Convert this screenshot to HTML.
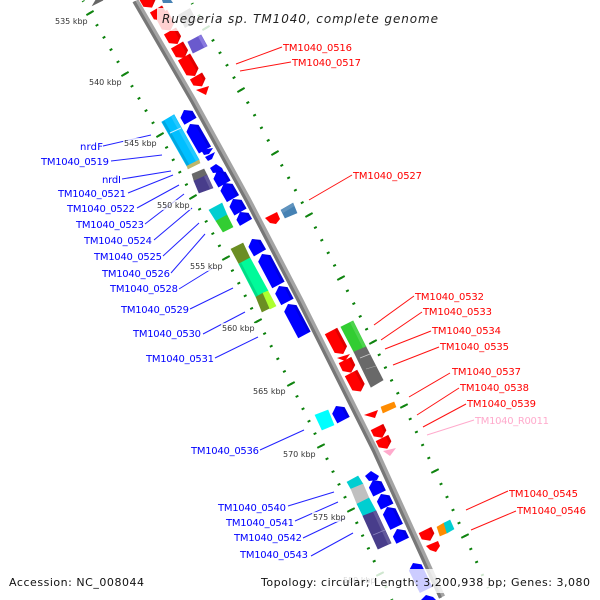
<!DOCTYPE html>
<html><head><meta charset="utf-8"><style>
html,body{margin:0;padding:0;background:#fff;width:600px;height:600px;overflow:hidden}
svg{display:block}
text{font-family:"DejaVu Sans","Liberation Sans",sans-serif}
.d path{fill:none;stroke:#0a800a;stroke-width:3;stroke-dasharray:1.4 8.6;stroke-dashoffset:.7}
.t line{stroke:#0f840f;stroke-width:2}
.b{font-size:10px;fill:#0000ff}.r{font-size:10px;fill:#ff0000}.p{font-size:10px;fill:#ffaacc}
.k{font-size:8px;fill:#333}
.lb line{stroke:#2222ff;stroke-width:1}.lr line{stroke:#ff1111;stroke-width:1}
.s{fill:#000;opacity:.12}.w{fill:#fff;opacity:.14}
</style></head><body>
<svg width="600" height="600" viewBox="0 0 600 600" xmlns="http://www.w3.org/2000/svg">
<rect width="600" height="600" fill="#fff"/>
<g class="d">
<path pathLength="10" d="M83,.8L90,13"/><path pathLength="50" d="M90,13L125,74"/><path pathLength="50" d="M125,74L160,135"/><path pathLength="50" d="M160,135L193,197"/><path pathLength="50" d="M193,197L226,258"/><path pathLength="50" d="M226,258L258,321"/><path pathLength="50" d="M258,321L291,384"/><path pathLength="50" d="M291,384L321,446"/><path pathLength="50" d="M321,446L351,510"/><path pathLength="50" d="M351,510L380,574"/><path pathLength="20" d="M380,574L392,600"/>
<path pathLength="20" d="M192,3.2L206,28"/><path pathLength="50" d="M206,28L241,90"/><path pathLength="50" d="M241,90L275,153"/><path pathLength="50" d="M275,153L309,215"/><path pathLength="50" d="M309,215L341,278"/><path pathLength="50" d="M341,278L373,342"/><path pathLength="50" d="M373,342L404,406"/><path pathLength="50" d="M404,406L435,471"/><path pathLength="50" d="M435,471L465,536"/><path pathLength="40" d="M465,536L488.2,588"/>
</g>
<g class="t">
<line x1="86.4" y1="15.1" x2="93.6" y2="10.9"/><line x1="121.4" y1="76.1" x2="128.6" y2="71.9"/><line x1="156.4" y1="137.1" x2="163.6" y2="132.9"/><line x1="189.4" y1="199.1" x2="196.6" y2="194.9"/><line x1="222.3" y1="260" x2="229.7" y2="256"/><line x1="254.3" y1="323" x2="261.7" y2="319"/><line x1="287.3" y1="386" x2="294.7" y2="382"/><line x1="317.3" y1="447.9" x2="324.7" y2="444.1"/><line x1="347.3" y1="511.9" x2="354.7" y2="508.1"/>
<line x1="202.4" y1="30.1" x2="209.6" y2="25.9"/><line x1="237.4" y1="92.1" x2="244.6" y2="87.9"/><line x1="271.4" y1="155.1" x2="278.6" y2="150.9"/><line x1="305.4" y1="217" x2="312.6" y2="213"/><line x1="337.3" y1="280" x2="344.7" y2="276"/><line x1="369.3" y1="344" x2="376.7" y2="340"/><line x1="400.3" y1="407.9" x2="407.7" y2="404.1"/><line x1="431.3" y1="472.9" x2="438.7" y2="469.1"/><line x1="461.3" y1="537.9" x2="468.7" y2="534.1"/>
<line x1="376.3" y1="575.9" x2="383.7" y2="572.1"/>
</g>
<!-- axis -->
<path d="M135.5,1L193,100L248,200L300,300L375,450L442,597" fill="none" stroke="#a4a4a4" stroke-width="6.5"/>
<path d="M134,1.5L191.5,101L246.5,201L298.5,301L373.5,451L440.5,598" fill="none" stroke="#777" stroke-width="3.2"/>
<!-- top COG -->
<polygon points="93,5 103,0 96,0" fill="#666" stroke="#666"/>
<polygon points="163,3 173,3 171,0 162,0" fill="#4682b4"/>
<polygon points="178,15 190,8 197,21 185,28" fill="#808080"/>
<polygon points="188,42 201,35 207,46 193,53" fill="#6a5acd" stroke="#6a5acd" stroke-width=".8"/>
<polygon points="201,35 207,46 204,47.5 198,36.5" fill="#8a7ae0"/>
<!-- red arrows -->
<g fill="#ff0000">
<g transform="translate(143,-8) rotate(60)"><polygon points="0,-7 13,-7 18,0 13,7 0,7"/><polygon class="s" points="0,-7 13,-7 18,0 13,-4 0,-4"/></g>
<g transform="translate(156,9) rotate(60)"><polygon points="0,-7 8,-7 13,0 8,7 0,7"/><polygon class="s" points="0,-7 8,-7 13,0 8,-4 0,-4"/></g>
<g transform="translate(161,13) rotate(62)"><polygon points="0,-7 15,-7 20,0 15,7 0,7"/></g>
<g transform="translate(170,31) rotate(60)"><polygon points="0,-7 10,-7 15,0 10,7 0,7"/><polygon class="s" points="0,-7 10,-7 15,0 10,-4 0,-4"/></g>
<g transform="translate(177,45) rotate(60)"><polygon points="0,-7 10,-7 15,0 10,7 0,7"/><polygon class="s" points="0,-7 10,-7 15,0 10,-4 0,-4"/></g>
<g transform="translate(184,57) rotate(60)"><polygon points="0,-7 17,-7 22,0 17,7 0,7"/><polygon class="s" points="0,-7 17,-7 22,0 17,-4 0,-4"/></g>
<g transform="translate(196,76) rotate(60)"><polygon points="0,-7 7,-7 12,0 7,7 0,7"/><polygon class="s" points="0,-7 7,-7 12,0 7,-4 0,-4"/></g>
<polygon points="196,90 209,86 206,95"/>
<polygon points="265,218 277,212 280,219 276,224 270,223"/>
<g transform="translate(331,331) rotate(62)"><polygon points="0,-7 21,-7 26,0 21,7 0,7"/><polygon class="s" points="0,-7 21,-7 26,0 21,-4 0,-4"/></g>
<polygon points="337,358 350,354 345,361"/>
<g transform="translate(345,360) rotate(64)"><polygon points="0,-7 9,-7 14,0 9,7 0,7"/><polygon class="s" points="0,-7 9,-7 14,0 9,-4 0,-4"/></g>
<g transform="translate(351,373) rotate(62)"><polygon points="0,-7 16,-7 21,0 16,7 0,7"/><polygon class="s" points="0,-7 16,-7 21,0 16,-4 0,-4"/></g>
<polygon points="364,415 378,410 375,418"/>
<g transform="translate(377,427) rotate(64)"><polygon points="0,-7 7,-7 12,0 7,7 0,7"/><polygon class="s" points="0,-7 7,-7 12,0 7,-4 0,-4"/></g>
<g transform="translate(382,438) rotate(64)"><polygon points="0,-7 7,-7 12,0 7,7 0,7"/><polygon class="s" points="0,-7 7,-7 12,0 7,-4 0,-4"/></g>
<g transform="translate(425,530) rotate(64)"><polygon points="0,-7 7,-7 12,0 7,7 0,7"/><polygon class="s" points="0,-7 7,-7 12,0 7,-4 0,-4"/></g>
<polygon points="426,546 438,541 440,546 436,552 430,550"/>
</g>
<polygon points="383,451 396,448 390,456" fill="#ffaacc"/>
<!-- blue arrows -->
<g fill="#0000ff">
<g transform="translate(184,110) rotate(60)"><polygon points="0,0 5,-7 13,-7 13,7 5,7"/><polygon class="s" points="0,0 5,-7 13,-7 13,-4 5,-4"/></g>
<g transform="translate(190,124) rotate(60)"><polygon points="0,0 5,-7 30,-7 30,7 5,7"/><polygon class="s" points="0,0 5,-7 30,-7 30,-4 5,-4"/></g>
<polygon points="201,150 213,148 209,154 204,155"/>
<polygon points="205,157 215,152 212,159 208,161"/>
<polygon points="210,168 216,164 222,168 224,172 213,173"/>
<g transform="translate(217,171) rotate(60)"><polygon points="0,0 5,-7 15,-7 15,7 5,7"/><polygon class="s" points="0,0 5,-7 15,-7 15,-4 5,-4"/></g>
<g transform="translate(224,183) rotate(60)"><polygon points="0,0 5,-7 18,-7 18,7 5,7"/><polygon class="s" points="0,0 5,-7 18,-7 18,-4 5,-4"/></g>
<g transform="translate(233,199) rotate(60)"><polygon points="0,0 5,-7 15,-7 15,7 5,7"/><polygon class="s" points="0,0 5,-7 15,-7 15,-4 5,-4"/></g>
<g transform="translate(240,212) rotate(60)"><polygon points="0,0 5,-7 12,-7 12,7 5,7"/><polygon class="s" points="0,0 5,-7 12,-7 12,-4 5,-4"/></g>
<g transform="translate(252,239) rotate(60)"><polygon points="0,0 5,-7 16,-7 16,7 5,7"/><polygon class="s" points="0,0 5,-7 16,-7 16,-4 5,-4"/></g>
<g transform="translate(262,254) rotate(62)"><polygon points="0,0 5,-7 35,-7 35,7 5,7"/><polygon class="s" points="0,0 5,-7 35,-7 35,-4 5,-4"/></g>
<g transform="translate(279,286) rotate(62)"><polygon points="0,0 5,-7 18,-7 18,7 5,7"/><polygon class="s" points="0,0 5,-7 18,-7 18,-4 5,-4"/></g>
<g transform="translate(288,304) rotate(62)"><polygon points="0,0 5,-7 35,-7 35,7 5,7"/><polygon class="s" points="0,0 5,-7 35,-7 35,-4 5,-4"/></g>
<g transform="translate(336,406) rotate(62)"><polygon points="0,0 5,-7 16,-7 16,7 5,7"/><polygon class="s" points="0,0 5,-7 16,-7 16,-4 5,-4"/></g>
<polygon points="365,476 371,471 379,476 377,480 369,481"/>
<g transform="translate(373,480) rotate(64)"><polygon points="0,0 5,-7 15,-7 15,7 5,7"/><polygon class="s" points="0,0 5,-7 15,-7 15,-4 5,-4"/></g>
<g transform="translate(381,494) rotate(64)"><polygon points="0,0 5,-7 14,-7 14,7 5,7"/><polygon class="s" points="0,0 5,-7 14,-7 14,-4 5,-4"/></g>
<g transform="translate(387,507) rotate(64)"><polygon points="0,0 5,-7 22,-7 22,7 5,7"/><polygon class="s" points="0,0 5,-7 22,-7 22,-4 5,-4"/></g>
<g transform="translate(397,529) rotate(64)"><polygon points="0,0 5,-7 13,-7 13,7 5,7"/><polygon class="s" points="0,0 5,-7 13,-7 13,-4 5,-4"/></g>
<g transform="translate(413,563) rotate(64)"><polygon points="0,0 5,-7 30,-7 30,7 5,7"/></g>
<polygon points="421,600 426,595 433,597 436,600"/>
</g>
<!-- COG blocks -->
<polygon points="162,122 174,115 199,160 187,166" fill="#00bfff" stroke="#00bfff"/>
<polygon class="s" points="162,122 164.4,120.6 189.4,164.8 187,166"/>
<polygon class="w" points="171,116.8 174,115 199,160 196,161.5"/>
<line x1="170" y1="133" x2="181" y2="128" stroke="#cceeff" stroke-width="1"/>
<polygon points="187,166 199,160 200,163 188,169" fill="#bdb76b" stroke="#bdb76b" stroke-width=".6"/>
<polygon points="192,174 204,169 207,175 194,181" fill="#696969" stroke="#696969" stroke-width=".6"/>
<polygon points="194,181 207,175 213,188 199,193" fill="#483d8b" stroke="#483d8b" stroke-width=".6"/>
<polygon class="w" points="204,176.5 207,175 213,188 210,189"/>
<polygon points="281,210 293,203 297,213 285,218" fill="#4682b4" stroke="#4682b4" stroke-width=".6"/>
<polygon class="w" points="281,210 293,203 294.5,206 283,213"/>
<polygon points="209,210 222,203 227,215 216,221" fill="#00ced1" stroke="#00ced1" stroke-width=".6"/>
<polygon points="216,221 227,215 233,227 223,232" fill="#32cd32" stroke="#32cd32" stroke-width=".6"/>
<polygon points="231,249 243,243 250,258 239,264" fill="#6b8e23" stroke="#6b8e23" stroke-width=".6"/>
<polygon points="239,264 250,258 268,291 256,297" fill="#00fa9a" stroke="#00fa9a" stroke-width=".8"/>
<polygon class="s" points="239,264 241.2,262.8 258.4,295.8 256,297"/>
<polygon points="256,297 263,293 270,308 262,312" fill="#6b8e23" stroke="#6b8e23" stroke-width=".6"/>
<polygon points="263,293 268,291 276,306 270,309" fill="#adff2f" stroke="#adff2f" stroke-width=".6"/>
<polygon points="341,327 353,321 366,347 354,352" fill="#32cd32" stroke="#32cd32" stroke-width=".8"/>
<polygon class="w" points="350,322.5 353,321 366,347 363,348"/>
<polygon points="354,352 366,347 383,380 371,387" fill="#696969" stroke="#696969" stroke-width=".8"/>
<line x1="360" y1="358" x2="370" y2="354" stroke="#ccc" stroke-width=".8"/>
<line x1="366" y1="369" x2="376" y2="366" stroke="#aaa" stroke-width=".6"/>
<polygon points="381,407 394,402 396,407 383,413" fill="#ff8c00" stroke="#ff8c00" stroke-width=".6"/>
<polygon points="315,415 328,410 334,425 322,430" fill="#00ffff" stroke="#00ffff" stroke-width=".6"/>
<polygon points="437,527 444,523 447,533 440,536" fill="#ff8c00" stroke="#ff8c00" stroke-width=".6"/>
<polygon points="444,523 450,520 454,529 447,533" fill="#00ced1" stroke="#00ced1" stroke-width=".6"/>
<polygon points="347,482 358,476 363,484 351,489" fill="#00ced1" stroke="#00ced1" stroke-width=".6"/>
<polygon points="351,489 363,484 369,498 357,504" fill="#c0c0c0" stroke="#c0c0c0" stroke-width=".6"/>
<polygon points="357,504 369,498 376,511 363,516" fill="#00ced1" stroke="#00ced1" stroke-width=".6"/>
<polygon points="363,516 376,511 391,543 378,549" fill="#483d8b" stroke="#483d8b" stroke-width=".8"/>
<polygon class="w" points="373,512 376,511 391,543 388,544.4"/>
<line x1="373" y1="535" x2="385" y2="530" stroke="#8f88c0" stroke-width=".7"/>
<!-- leader lines -->
<g class="lb">
<line x1="103" y1="146" x2="151" y2="135"/><line x1="111" y1="161" x2="162" y2="155"/><line x1="122" y1="179" x2="171" y2="171"/><line x1="128" y1="193" x2="173" y2="175"/><line x1="137" y1="208" x2="179" y2="185"/><line x1="145" y1="224" x2="184" y2="194"/><line x1="154" y1="240" x2="192" y2="208"/><line x1="163" y1="256" x2="199" y2="223"/><line x1="171" y1="273" x2="205" y2="234"/><line x1="179" y1="289" x2="213" y2="268"/><line x1="190" y1="309" x2="233" y2="288"/><line x1="203" y1="334" x2="245" y2="312"/><line x1="215" y1="358" x2="258" y2="337"/><line x1="260" y1="450" x2="304" y2="430"/><line x1="288" y1="506" x2="334" y2="492"/><line x1="295" y1="521" x2="338" y2="502"/><line x1="303" y1="538" x2="345" y2="518"/><line x1="311" y1="556" x2="353" y2="533"/>
</g>
<g class="lr">
<line x1="282" y1="47" x2="236" y2="64"/><line x1="291" y1="62" x2="240" y2="71"/><line x1="352" y1="175" x2="309" y2="200"/><line x1="414" y1="296" x2="374" y2="325"/><line x1="422" y1="312" x2="381" y2="340"/><line x1="431" y1="331" x2="385" y2="349"/><line x1="439" y1="347" x2="393" y2="365"/><line x1="450" y1="373" x2="409" y2="397"/><line x1="459" y1="388" x2="417" y2="415"/><line x1="466" y1="404" x2="423" y2="427"/><line x1="508" y1="491" x2="466" y2="510"/><line x1="516" y1="511" x2="471" y2="530"/>
</g>
<line x1="474" y1="420" x2="427" y2="435" stroke="#ffaacc"/>
<!-- kbp labels -->
<g fill="#fff" opacity=".75">
<rect x="54" y="16" width="34" height="10"/><rect x="88" y="77" width="35" height="10"/><rect x="123" y="138" width="35" height="10"/><rect x="156" y="200" width="35" height="10"/><rect x="189" y="261" width="35" height="10"/><rect x="221" y="323" width="35" height="10"/><rect x="252" y="386" width="35" height="10"/><rect x="282" y="449" width="35" height="10"/><rect x="312" y="512" width="35" height="10"/>
</g>
<g class="k">
<text x="55" y="24">535 kbp</text><text x="89" y="85">540 kbp</text><text x="124" y="146">545 kbp</text><text x="157" y="208">550 kbp</text><text x="190" y="269">555 kbp</text><text x="222" y="331">560 kbp</text><text x="253" y="394">565 kbp</text><text x="283" y="457">570 kbp</text><text x="313" y="520">575 kbp</text><text x="343" y="583">580 kbp</text>
</g>
<!-- gene labels -->
<g class="b">
<text x="80" y="150" textLength="23">nrdF</text><text x="41" y="165" textLength="68">TM1040_0519</text><text x="102" y="183" textLength="19">nrdI</text><text x="58" y="197" textLength="68">TM1040_0521</text><text x="67" y="212" textLength="68">TM1040_0522</text><text x="76" y="228" textLength="68">TM1040_0523</text><text x="84" y="244" textLength="68">TM1040_0524</text><text x="94" y="260" textLength="68">TM1040_0525</text><text x="102" y="277" textLength="68">TM1040_0526</text><text x="110" y="292" textLength="68">TM1040_0528</text><text x="121" y="313" textLength="68">TM1040_0529</text><text x="133" y="337" textLength="68">TM1040_0530</text><text x="146" y="362" textLength="68">TM1040_0531</text><text x="191" y="454" textLength="68">TM1040_0536</text><text x="218" y="511" textLength="68">TM1040_0540</text><text x="226" y="526" textLength="68">TM1040_0541</text><text x="234" y="541" textLength="68">TM1040_0542</text><text x="240" y="558" textLength="68">TM1040_0543</text>
</g>
<g class="r">
<text x="283" y="51" textLength="69">TM1040_0516</text><text x="292" y="66" textLength="69">TM1040_0517</text><text x="353" y="179" textLength="69">TM1040_0527</text><text x="415" y="300" textLength="69">TM1040_0532</text><text x="423" y="315" textLength="69">TM1040_0533</text><text x="432" y="334" textLength="69">TM1040_0534</text><text x="440" y="350" textLength="69">TM1040_0535</text><text x="452" y="375" textLength="69">TM1040_0537</text><text x="460" y="391" textLength="69">TM1040_0538</text><text x="467" y="407" textLength="69">TM1040_0539</text><text x="509" y="497" textLength="69">TM1040_0545</text><text x="517" y="514" textLength="69">TM1040_0546</text>
</g>
<text class="p" x="475" y="424" textLength="74">TM1040_R0011</text>
<!-- overlays -->
<rect x="157" y="8" width="286" height="23" fill="#fff" opacity=".82"/>
<text x="162" y="23" font-size="12" font-style="italic" fill="#222" textLength="276">Ruegeria sp. TM1040, complete genome</text>
<rect x="256" y="569" width="339" height="24" fill="#fff" opacity=".8"/>
<text x="9" y="586" font-size="11" fill="#111" textLength="135">Accession: NC_008044</text>
<text x="261" y="586" font-size="11" fill="#111" textLength="329">Topology: circular; Length: 3,200,938 bp; Genes: 3,080</text>
</svg>
</body></html>
